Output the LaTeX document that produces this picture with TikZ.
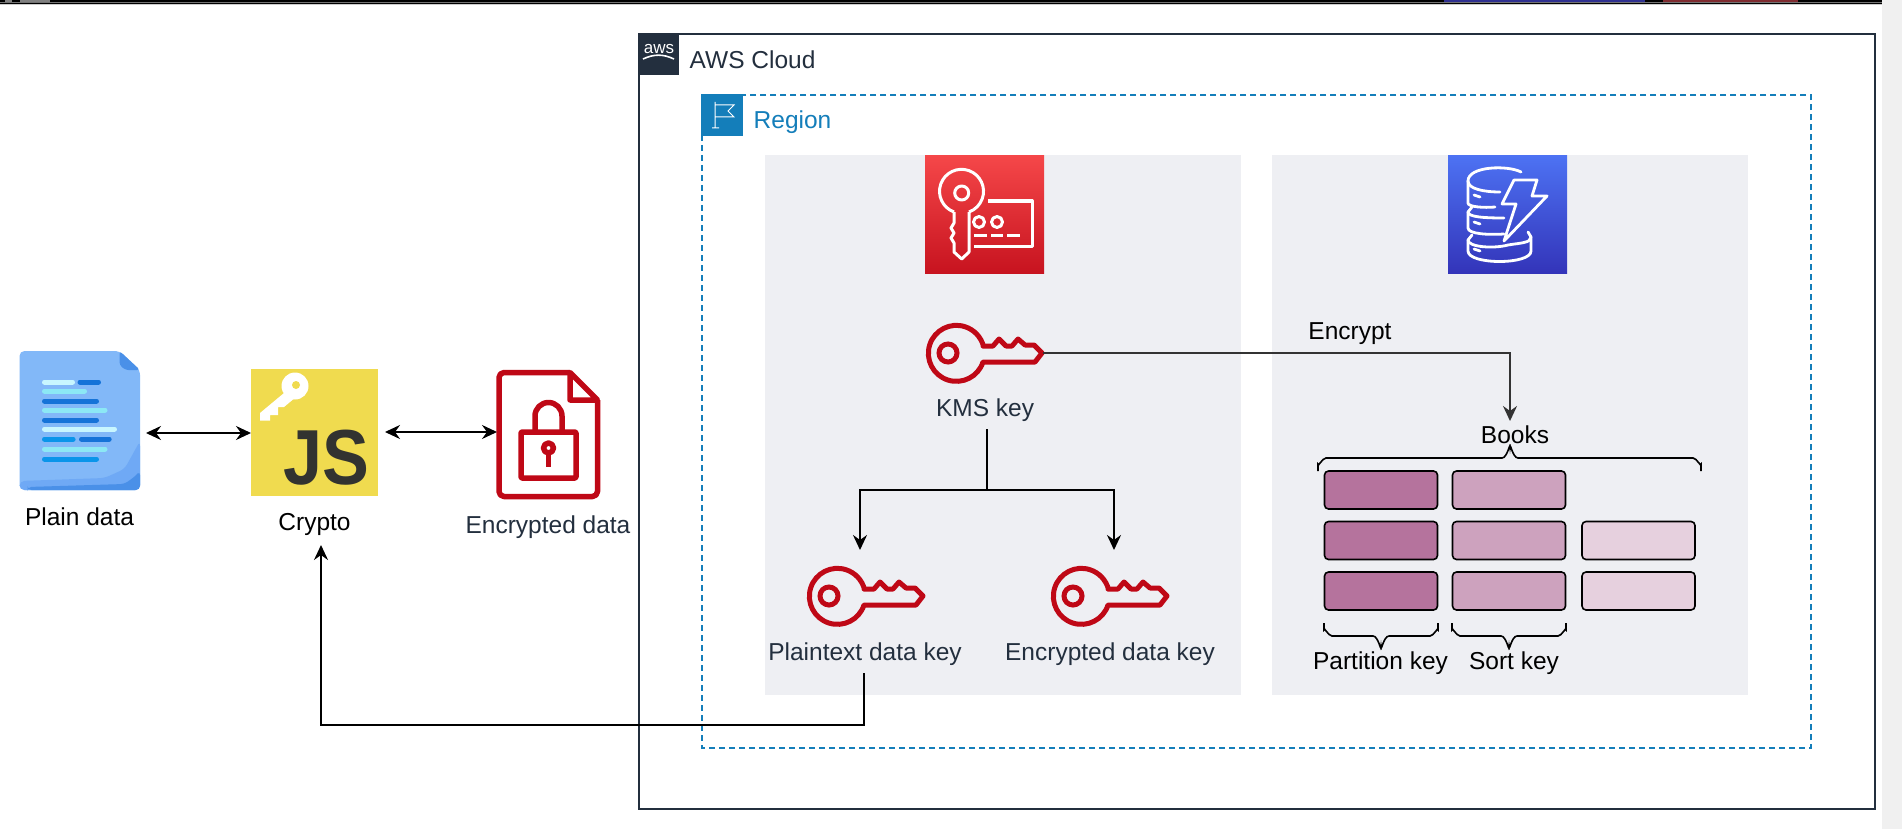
\documentclass[tikz,border=0pt]{standalone}
\usepackage{fontspec}
\setmainfont{Liberation Sans}
\usepackage{xcolor}
\usetikzlibrary{arrows.meta}
\definecolor{awsink}{HTML}{232F3E}
\definecolor{regionblue}{HTML}{147EBA}
\definecolor{panelgrey}{HTML}{EEEFF3}
\definecolor{keyred}{HTML}{BF0816}
\definecolor{kmstop}{HTML}{F54749}
\definecolor{kmsbot}{HTML}{C7131F}
\definecolor{ddbtop}{HTML}{4D72F3}
\definecolor{ddbbot}{HTML}{3334B9}
\definecolor{cellA}{HTML}{B5739D}
\definecolor{cellB}{HTML}{CDA2BE}
\definecolor{cellC}{HTML}{E6D0DE}
\definecolor{jsyellow}{HTML}{F0DB4F}
\definecolor{jsdark}{HTML}{323330}
\definecolor{docblue}{HTML}{82B8F8}
\definecolor{docmid}{HTML}{6FA9F5}
\definecolor{docdark}{HTML}{4A90E8}
\definecolor{docpale}{HTML}{C8F6FF}
\definecolor{doccyan}{HTML}{8CE8F5}
\definecolor{docnavy}{HTML}{1573D8}
\definecolor{docsky}{HTML}{0A95EA}
\definecolor{stripblue}{HTML}{2F3090}
\definecolor{stripred}{HTML}{7F2B30}
\tikzset{
  lbl/.style={font=\fontsize{24.5}{28}\selectfont,inner sep=0pt,text=black},
  awslbl/.style={lbl,text=awsink},
  panel/.style={fill=panelgrey,draw=none},
  cell/.style={draw=black,line width=1.6pt,rounded corners=4pt,minimum width=113pt,minimum height=38pt,inner sep=0pt},
  icon/.style={inner sep=0pt,draw=none},
  wire/.style={line width=2pt,draw=black},
  wirearrow/.style={wire,-{Stealth[length=15pt,width=14pt,inset=5pt]}},
  biarrow/.style={wire,{Stealth[length=15pt,width=14pt,inset=5pt]}-{Stealth[length=15pt,width=14pt,inset=5pt]}},
  bracket/.style={line width=1.6pt,draw=black},
  pics/keyicon/.style={code={
	\draw[keyred,line width=5pt,line join=round]
	  (27,-7) -- (37,-7) -- (43,-14) -- (50,-7) -- (56,-7) -- (62,-14) -- (69,-8) -- (78,-8) -- (86,0) -- (79,9) -- (27,9)
	  arc[start angle=18,end angle=345,radius=28] -- cycle;
	\draw[keyred,line width=5pt] (-8,0) circle[radius=9];
  }},
}
% top brace, macro args: left x, tip x, right x
\newcommand{\topbrace}[3]{
	\draw[bracket] (#1,471) -- (#1,464) to[out=-90,in=180] (#1+8,458) -- (#2-8,458)
	  to[out=0,in=90] (#2,447) to[out=90,in=180] (#2+8,458) -- (#3-8,458) to[out=0,in=-90] (#3,464) -- (#3,471);
}
\newcommand{\lowbrace}[3]{
	\draw[bracket] (#1,623) -- (#1,630) to[out=90,in=180] (#1+8,636) -- (#2-8,636)
	  to[out=0,in=-90] (#2,647) to[out=-90,in=180] (#2+8,636) -- (#3-8,636) to[out=0,in=90] (#3,630) -- (#3,623);
}

\begin{document}
\begin{tikzpicture}[x=1pt,y=-1pt]
	\useasboundingbox (0,0) rectangle (1902,829);
	\fill[white] (0,0) rectangle (1902,829);
	\fill[black!6] (1882,0) rectangle (1902,829);

	% strip along the top
	\fill[black] (0,0) rectangle (1882,4);
	\fill[black!55] (0,2) rectangle (1882,3);
	\fill[black!20] (0,4) rectangle (1882,4.7);
	\fill[black!50] (5,0) rectangle (12,2);
	\fill[black!50] (20,0) rectangle (50,2);
	\fill[stripblue] (1444,0) rectangle (1645,2.4);
	\fill[stripred] (1663,0) rectangle (1798,2.4);

	% groups
	\draw[awsink,line width=2pt] (639,34) rectangle (1875,809);
	\fill[awsink] (638,33) rectangle (679,75);
	\node[inner sep=0pt,text=white,font=\fontsize{17}{17}\selectfont] (awslogo) at (659,49) {aws};
	\draw[white,line width=1.6pt] (643,59) to[out=25,in=155] (674,59);
	\node[awslbl,anchor=west] (cloud) at (689.5,60) {AWS Cloud};

	\draw[regionblue,line width=1.5pt,dash pattern=on 6pt off 4pt] (702,95) rectangle (1811,748);
	\fill[regionblue] (701,94) rectangle (743,136);
	\draw[white,line width=1pt] (715,102) -- (715,128) (712,128) -- (719,128)
	  (715,105) -- (734,105) -- (728,111) -- (734,117) -- (715,117);
	\node[lbl,text=regionblue,anchor=west] (region) at (753.5,122) {Region};

	\fill[panel] (765,155.5) rectangle (1241,695);
	\fill[panel] (1272,155.5) rectangle (1748,695);

	% service icons
	\node[icon,minimum width=119pt,minimum height=118pt,top color=kmstop,bottom color=kmsbot] (kms) at (984.5,214.5) {};
	\begin{scope}[shift={(925,155)},white,line width=3pt,line join=round]
		\draw (29,57) arc[start angle=110,end angle=430,radius=22] ;
		\draw (29,57) -- (29,68) -- (26,73) -- (29,78) -- (26,83) -- (29,88) -- (29,97) -- (36.7,104) -- (44,97) -- (44,57);
		\draw (36.7,38) circle[radius=7];
		\draw (63,46) -- (107,46) -- (107,91) -- (49,91);
		\draw (54,67) circle[radius=5.5] (72,67) circle[radius=5.5];
		\foreach \a/\b in {49/62,66/78,82/95}{
			\draw (\a,80) -- (\b,80);
		}
	\end{scope}

	\node[icon,minimum width=119pt,minimum height=118pt,top color=ddbtop,bottom color=ddbbot] (ddb) at (1507.5,214.5) {};
	\begin{scope}[shift={(1448,155)},white,line width=2.8pt,line join=round,line cap=round]
		\draw (73,17) .. controls (60,10) and (20,11) .. (20,26) .. controls (20,34) and (36,37) .. (52,37);
		\draw (20,26) -- (20,48) .. controls (20,52) and (36,53) .. (47,52);
		\draw (24,52) -- (20,57) -- (20,73) .. controls (20,79) and (40,80) .. (56,79);
		\draw (20,57) .. controls (20,62) and (36,63) .. (56,63);
		\draw (24,80) -- (20,85) -- (20,96) .. controls (20,110) and (83,110) .. (83,96) -- (83,82) -- (80,77);
		\draw (20,85) .. controls (20,92) and (45,94) .. (60,90) .. controls (72,88) and (83,88) .. (83,82);
		\foreach \yy in {40,67,94}{
			\draw (26,\yy) -- (32,\yy+2);
		}
		\draw (66,25) -- (89,25) -- (84,41) -- (99,41) -- (56,86) -- (68,49) -- (54,49) -- cycle;
	\end{scope}

	% left hand side
	\node[icon,minimum width=120pt,minimum height=139pt] (plain) at (79.5,420.5) {};
	\begin{scope}[shift={(19.5,351)}]
		\fill[docblue,rounded corners=5pt] (0,0) -- (100,0) -- (120.5,19) -- (120.5,139) -- (0,139) -- cycle;
		\fill[docdark,rounded corners=3pt] (100,0) -- (120.5,19) -- (106,19) -- (100,14) -- cycle;
		\fill[docmid,rounded corners=5pt] (0,130) -- (85,127) -- (105,118) -- (120.5,90) -- (120.5,139) -- (0,139) -- cycle;
		\fill[docdark,rounded corners=4pt] (8,136) -- (105,133) -- (116,125) -- (120.5,120) -- (120.5,139) -- (8,139) -- cycle;
		\foreach \a/\b/\yy/\col in {23/55/31/docpale,58.5/81/31/docnavy,23/67/40/doccyan,23/79/50/docnavy,23/87.5/59/doccyan,23/79/69/docnavy,23/97/78/docpale,23/55.6/88/docsky,60/91.7/88/docnavy,23/87.5/98/doccyan,23/79/108/docsky}{
			\draw[\col,line width=5pt,line cap=round] (\a+2,\yy) -- (\b-2,\yy);
		}
	\end{scope}

	\node[icon,minimum width=127pt,minimum height=127pt,fill=jsyellow] (crypto) at (314.5,432.5) {};
	\begin{scope}[shift={(251,368)}]
		\fill[white] (33,25) -- (9,45) -- (9,52.5) -- (19,52.5) -- (19,47) -- (27,47) -- (27,39) -- (33,39) -- (45,29) -- cycle;
		\fill[white] (44,18) circle[radius=13.5];
		\fill[jsyellow] (45,17) circle[radius=4];
	\end{scope}
	\node[inner sep=0pt,xscale=.9,text=jsdark,font=\fontsize{78}{78}\selectfont\bfseries] (jstext) at (326,458) {JS};

	\node[icon,minimum width=103pt,minimum height=129pt] (efile) at (548.5,434.5) {};
	\begin{scope}[shift={(497,370)},keyred,line width=5.5pt,line join=round]
		\draw[rounded corners=5pt] (73,2.5) -- (2,2.5) -- (2,126.5) -- (100.5,126.5) -- (100.5,30);
		\draw (73,2.5) -- (100.5,30) -- (73,30) -- cycle;
		\draw[rounded corners=1pt] (24,62) rectangle (79,108);
		\draw (38,62) -- (38,46) arc[start angle=180,end angle=360,radius=13.5] -- (65,62);
		\draw (51.5,78) circle[radius=5];
		\draw (51.5,83) -- (51.5,97);
	\end{scope}

	% keys
	\node[icon,minimum width=117pt,minimum height=60pt] (kmskey) at (984.5,353) {};
	\pic at (956,353) {keyicon};
	\node[icon,minimum width=117pt,minimum height=60pt] (ptkey) at (865.5,596) {};
	\pic at (837,596) {keyicon};
	\node[icon,minimum width=117pt,minimum height=60pt] (enkey) at (1110,596) {};
	\pic at (1081,596) {keyicon};

	% table
	\foreach \x/\y/\col/\name in {1381/490/cellA/a1,1381/540.5/cellA/a2,1381/591/cellA/a3,1509/490/cellB/b1,1509/540.5/cellB/b2,1509/591/cellB/b3,1638.5/540.5/cellC/c2,1638.5/591/cellC/c3}{
		\node[cell,fill=\col] (\name) at (\x,\y) {};
	}
	\topbrace{1318}{1510}{1701}
	\lowbrace{1324}{1381}{1438}
	\lowbrace{1452}{1509}{1566}

	% labels
	\node[lbl] (plainlbl) at (79.5,517) {Plain data};
	\node[lbl] (cryptolbl) at (314.5,524.5) {Crypto};
	\node[awslbl] (efilelbl) at (548,527.5) {Encrypted data};
	\node[awslbl] (kmslbl) at (985,410) {KMS key};
	\node[awslbl] (ptlbl) at (865,654) {Plaintext data key};
	\node[awslbl] (enlbl) at (1110,654) {Encrypted data key};
	\node[lbl] (encrypt) at (1350,333.5) {Encrypt};
	\node[lbl] (books) at (1515,434.5) {Books};
	\node[lbl] (partlbl) at (1380.5,663) {Partition key};
	\node[lbl] (sortlbl) at (1514,663) {Sort key};

	% connectors
	\coordinate (booksin) at (1510,421);
	\coordinate (splitin) at (987,429);
	\coordinate (ptin) at (860,550);
	\coordinate (enin) at (1114,550);
	\coordinate (ptout) at (863.5,673);
	\coordinate (cryptoin) at (321,545);
	\coordinate (docend) at (146,433);
	\coordinate (jsin) at (251,433);
	\coordinate (jsout) at (385,432);
	\coordinate (filein) at (497,432);

	\draw[biarrow] (docend) -- (jsin);
	\draw[biarrow] (jsout) -- (filein);
	\draw[wirearrow,draw=black!80] (kmskey.east) -| (booksin);
	\draw[wirearrow] (splitin) |- (ptin |- 0,490) -- (ptin);
	\draw[wirearrow] (splitin) |- (enin |- 0,490) -- (enin);
	\draw[wirearrow] (ptout) |- (cryptoin |- 0,725) -- (cryptoin);
\end{tikzpicture}
\end{document}
